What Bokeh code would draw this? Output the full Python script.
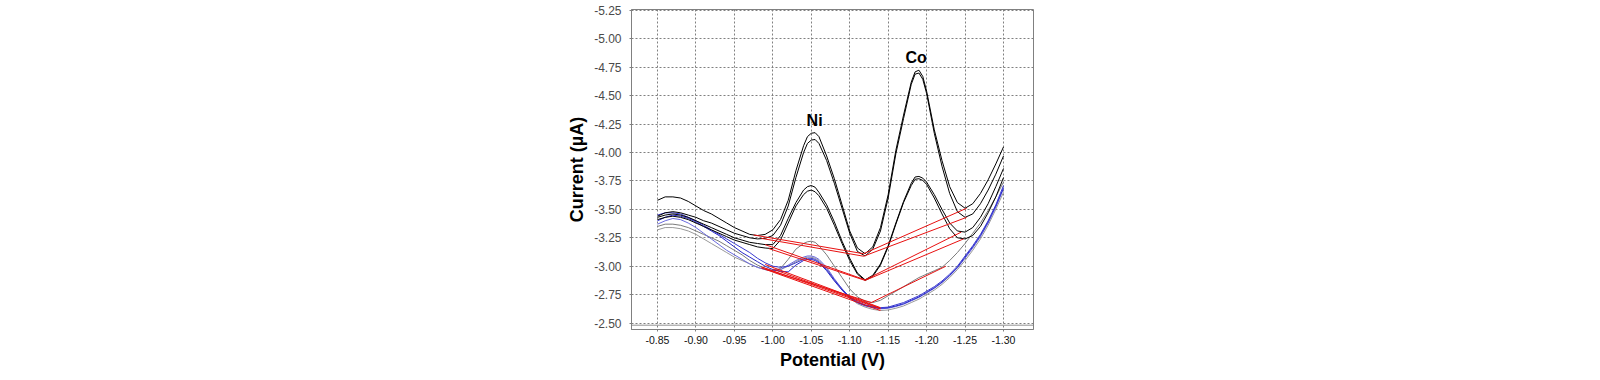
from bokeh.plotting import figure
from bokeh.models import Range1d, FixedTicker, NumeralTickFormatter, Span
from bokeh.core.properties import value
from bokeh.embed import file_html
from bokeh.resources import INLINE

# ---------------- data ----------------
potential = [-0.85, -0.86, -0.87, -0.88, -0.89, -0.90, -0.91, -0.92, -0.93, -0.94,
             -0.95, -0.96, -0.97, -0.98, -0.99, -1.00, -1.01, -1.02, -1.03, -1.04,
             -1.045, -1.05, -1.055, -1.06, -1.07, -1.08, -1.09, -1.10, -1.11, -1.12,
             -1.13, -1.14, -1.15, -1.16, -1.17, -1.18, -1.185, -1.19, -1.195, -1.20,
             -1.21, -1.22, -1.23, -1.24, -1.25, -1.26, -1.27, -1.28, -1.29, -1.30]

black_1 = [-3.58, -3.61, -3.61, -3.60, -3.57, -3.53, -3.49, -3.46, -3.42, -3.38,
           -3.34, -3.31, -3.28, -3.27, -3.28, -3.32, -3.41, -3.58, -3.84, -4.06,
           -4.14, -4.17, -4.175, -4.14, -3.97, -3.77, -3.54, -3.31, -3.16, -3.11,
           -3.17, -3.34, -3.63, -4.02, -4.33, -4.62, -4.71, -4.725, -4.67, -4.54,
           -4.20, -3.93, -3.70, -3.56, -3.51, -3.55, -3.64, -3.76, -3.90, -4.05]
black_2 = [-3.44, -3.47, -3.48, -3.47, -3.45, -3.43, -3.40, -3.38, -3.35, -3.32,
           -3.29, -3.27, -3.25, -3.24, -3.245, -3.27, -3.36, -3.53, -3.78, -4.00,
           -4.08, -4.11, -4.115, -4.08, -3.93, -3.73, -3.51, -3.29, -3.13, -3.09,
           -3.15, -3.31, -3.60, -3.99, -4.30, -4.60, -4.69, -4.70, -4.645, -4.52,
           -4.17, -3.88, -3.64, -3.48, -3.43, -3.46, -3.55, -3.67, -3.81, -3.97]
black_3 = [-3.43, -3.45, -3.46, -3.45, -3.43, -3.40, -3.37, -3.34, -3.31, -3.28,
           -3.25, -3.23, -3.21, -3.20, -3.19, -3.19, -3.27, -3.42, -3.56, -3.67,
           -3.70, -3.71, -3.695, -3.65, -3.54, -3.39, -3.22, -3.07, -2.94, -2.88,
           -2.92, -3.02, -3.18, -3.38, -3.57, -3.73, -3.785, -3.79, -3.775, -3.74,
           -3.63, -3.50, -3.38, -3.31, -3.30, -3.34, -3.43, -3.55, -3.70, -3.86]
black_4 = [-3.41, -3.43, -3.44, -3.43, -3.41, -3.38, -3.35, -3.32, -3.29, -3.26,
           -3.23, -3.21, -3.19, -3.17, -3.16, -3.155, -3.23, -3.38, -3.53, -3.63,
           -3.66, -3.67, -3.655, -3.62, -3.51, -3.36, -3.20, -3.05, -2.93, -2.875,
           -2.91, -3.01, -3.17, -3.37, -3.56, -3.71, -3.765, -3.77, -3.755, -3.72,
           -3.60, -3.46, -3.33, -3.25, -3.24, -3.27, -3.35, -3.47, -3.61, -3.78]
blue_1 = [-3.45, -3.47, -3.47, -3.46, -3.43, -3.40, -3.36, -3.32, -3.28, -3.24,
          -3.20, -3.16, -3.12, -3.07, -3.03, -3.00, -2.99, -3.00, -3.03, -3.06,
          -3.07, -3.07, -3.06, -3.04, -2.97, -2.88, -2.80, -2.73, -2.69, -2.66,
          -2.645, -2.635, -2.64, -2.66, -2.68, -2.71, -2.725, -2.74, -2.76, -2.78,
          -2.82, -2.87, -2.93, -3.00, -3.09, -3.18, -3.28, -3.40, -3.54, -3.71]
blue_2 = [-3.40, -3.43, -3.45, -3.44, -3.42, -3.39, -3.35, -3.31, -3.27, -3.22,
          -3.17, -3.12, -3.08, -3.04, -3.00, -2.97, -2.955, -2.95, -3.01, -3.05,
          -3.06, -3.06, -3.05, -3.03, -2.96, -2.87, -2.79, -2.72, -2.68, -2.655,
          -2.64, -2.63, -2.635, -2.65, -2.67, -2.70, -2.715, -2.73, -2.75, -2.77,
          -2.81, -2.86, -2.92, -2.99, -3.08, -3.17, -3.27, -3.39, -3.53, -3.69]
blue_3 = [-3.37, -3.40, -3.42, -3.41, -3.38, -3.34, -3.29, -3.24, -3.19, -3.14,
          -3.10, -3.06, -3.02, -2.99, -2.97, -2.96, -2.97, -3.01, -3.05, -3.08,
          -3.09, -3.09, -3.08, -3.06, -2.99, -2.89, -2.80, -2.73, -2.68, -2.65,
          -2.635, -2.625, -2.63, -2.645, -2.665, -2.695, -2.71, -2.725, -2.745, -2.765,
          -2.805, -2.855, -2.915, -2.985, -3.07, -3.16, -3.26, -3.38, -3.52, -3.68]
gray_1 = [-3.35, -3.37, -3.37, -3.36, -3.34, -3.31, -3.28, -3.25, -3.22, -3.18,
          -3.14, -3.10, -3.05, -3.01, -2.98, -2.96, -2.98, -3.06, -3.15, -3.20,
          -3.215, -3.22, -3.21, -3.18, -3.10, -3.00, -2.90, -2.80, -2.73, -2.69,
          -2.68, -2.70, -2.74, -2.78, -2.82, -2.86, -2.88, -2.90, -2.915, -2.93,
          -2.96, -2.99, -3.05, -3.12, -3.20, -3.29, -3.38, -3.49, -3.61, -3.74]
gray_2 = [-3.32, -3.34, -3.34, -3.33, -3.31, -3.28, -3.24, -3.20, -3.16, -3.12,
          -3.08, -3.05, -3.02, -2.99, -2.97, -2.96, -2.97, -3.00, -3.04, -3.07,
          -3.08, -3.08, -3.07, -3.05, -2.98, -2.88, -2.79, -2.72, -2.67, -2.64,
          -2.62, -2.61, -2.615, -2.63, -2.65, -2.68, -2.695, -2.71, -2.73, -2.75,
          -2.79, -2.84, -2.90, -2.97, -3.05, -3.14, -3.24, -3.36, -3.50, -3.65]

# peak baselines (start potential, start current, end potential, end current)
baseline_x0 = [-0.975, -0.985, -0.990, -0.995, -0.990, -0.990, -1.000, -0.985, -0.985,
               -1.118, -1.118, -1.120, -1.120, -1.128]
baseline_y0 = [-3.275, -3.245, -3.190, -3.155, -2.975, -3.015, -2.975, -2.995, -2.985,
               -3.110, -3.088, -2.880, -2.875, -2.680]
baseline_x1 = [-1.118, -1.118, -1.120, -1.120, -1.128, -1.140, -1.140, -1.140, -1.140,
               -1.252, -1.252, -1.245, -1.248, -1.225]
baseline_y1 = [-3.110, -3.088, -2.880, -2.875, -2.680, -2.635, -2.630, -2.625, -2.610,
               -3.510, -3.430, -3.300, -3.240, -3.000]

peak_names = ["Ni", "Co"]
peak_x = [-1.0543, -1.1864]
peak_y = [-4.28, -4.835]

x_ticks = [-0.85, -0.90, -0.95, -1.00, -1.05, -1.10, -1.15, -1.20, -1.25, -1.30]
y_ticks = [-2.50, -2.75, -3.00, -3.25, -3.50, -3.75, -4.00, -4.25, -4.50, -4.75, -5.00, -5.25]

# ---------------- figure ----------------
p = figure(width=1600, height=372,
           x_range=Range1d(-0.8162, -1.339), y_range=Range1d(-2.443, -5.259),
           output_backend="svg", toolbar_location=None, title=None,
           min_border_left=631, min_border_right=567, min_border_top=9, min_border_bottom=42)

p.background_fill_color = "white"
p.border_fill_color = "white"
p.outline_line_color = "#808080"
p.outline_line_width = 1

for ax in (p.xaxis, p.yaxis):
    ax.axis_line_color = "#808080"
    ax.major_tick_line_color = "#808080"
    ax.major_tick_out = 2
    ax.major_tick_in = 0
    ax.minor_tick_line_color = None
    ax.axis_label_text_font = "Liberation Sans"
    ax.axis_label_text_font_style = "bold"
    ax.axis_label_text_font_size = "18px"
    ax.axis_label_text_color = "black"
    ax.major_label_text_font = "Liberation Sans"
    ax.formatter = NumeralTickFormatter(format="0.00")

p.xaxis.ticker = FixedTicker(ticks=x_ticks)
p.yaxis.ticker = FixedTicker(ticks=y_ticks)
p.xaxis.axis_label = "Potential (V)"
p.yaxis.axis_label = "Current (µA)"
p.xaxis.major_label_text_font_size = "10.5px"
p.xaxis.major_label_text_color = "#111111"
p.xaxis.major_label_standoff = 4
p.xaxis.axis_label_standoff = 3
p.yaxis.major_label_text_font_size = "12px"
p.yaxis.major_label_text_color = "#4a4a4a"
p.yaxis.major_label_standoff = 8
p.yaxis.axis_label_standoff = 4

for g in (p.xgrid, p.ygrid):
    g.grid_line_color = "#808080"
    g.grid_line_dash = "2 2"
    g.grid_line_width = 1
p.xgrid.ticker = FixedTicker(ticks=x_ticks)
p.ygrid.ticker = FixedTicker(ticks=y_ticks)

# data-area bottom border (the x axis is offset below it)
p.add_layout(Span(location=-2.481, dimension="width", line_color="#909090", line_width=1))

curves = [
    (gray_2, "#999999"),
    (gray_1, "#7a7a7a"),
    (blue_3, "#6a6ade"),
    (blue_2, "#2828c8"),
    (blue_1, "#3a3ad0"),
    (black_4, "#000000"),
    (black_3, "#000000"),
    (black_2, "#000000"),
    (black_1, "#000000"),
]
for ys, col in curves:
    p.line(potential, ys, line_color=col, line_width=1)

p.segment(x0=baseline_x0, y0=baseline_y0, x1=baseline_x1, y1=baseline_y1,
          line_color="#e81010", line_width=1)

p.text(x=peak_x, y=peak_y, text=peak_names, text_font=value("Liberation Sans"),
       text_font_style="bold", text_font_size="16px", text_color="black",
       text_align="center", text_baseline="middle")

open("out.html", "w").write(file_html(p, INLINE))
